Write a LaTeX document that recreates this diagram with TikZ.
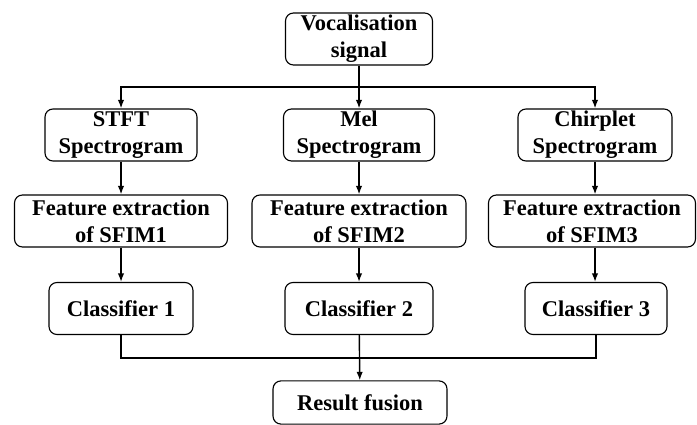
\documentclass[tikz,border=0pt]{standalone}
\usepackage{fontspec}
\setmainfont{Liberation Serif}
\usepackage{tikz}
\usetikzlibrary{arrows.meta}

\begin{document}
\begin{tikzpicture}[x=0.025cm, y=-0.025cm,
      every node/.style = {shape=rectangle, rounded corners=0.2cm,
        draw, line width=0.8pt, align=center, inner sep=0pt,
        font=\fontsize{16}{19.2}\selectfont\bfseries},
      box/.style = {minimum width=#1*0.025cm, minimum height=1.3cm},
      link/.style = {line width=1pt, -{Latex[length=6pt,width=4.5pt]}}]
      \useasboundingbox (0,0) rectangle (697,425);
      \node[box=147] (voc) at (359,39) {Vocalisation\\signal};
      \node[box=152] (stft) at (121,135) {STFT\\Spectrogram};
      \node[box=151] (mel) at (359,135) {Mel\\Spectrogram};
      \node[box=154] (chirp) at (595,135) {Chirplet\\Spectrogram};
      \node[box=213] (feat1) at (121,221) {Feature extraction\\of SFIM1};
      \node[box=214] (feat2) at (359,221) {Feature extraction\\of SFIM2};
      \node[box=207] (feat3) at (592,221) {Feature extraction\\of SFIM3};
      \node[box=144] (clf1) at (121,308.5) {Classifier 1};
      \node[box=148] (clf2) at (359,308.5) {Classifier 2};
      \node[box=142] (clf3) at (596,308.5) {Classifier 3};
      \node[box=174, minimum height=1.08cm] (fusion) at (360,402.5) {Result fusion};
      \coordinate (split) at (359,87);
      \coordinate (merge) at (359,358);
      % splitting the signal
      \draw[link] (voc) -- (mel);
      \draw[link] (split) -| (stft.north);
      \draw[link] (split) -| (chirp.north);
      % the three branches
      \foreach \i/\j/\k in {stft/feat1/clf1, mel/feat2/clf2, chirp/feat3/clf3}
        {\draw[link] (\i.south) -- (\i.south |- \j.north);
         \draw[link] (\i.south |- \j.south) -- (\i.south |- \k.north);}
      % fusion
      \draw[line width=1pt] (clf1.south) |- (merge) -| (clf3.south);
      \draw[link] (clf2) -- (fusion);
\end{tikzpicture}
\end{document}
